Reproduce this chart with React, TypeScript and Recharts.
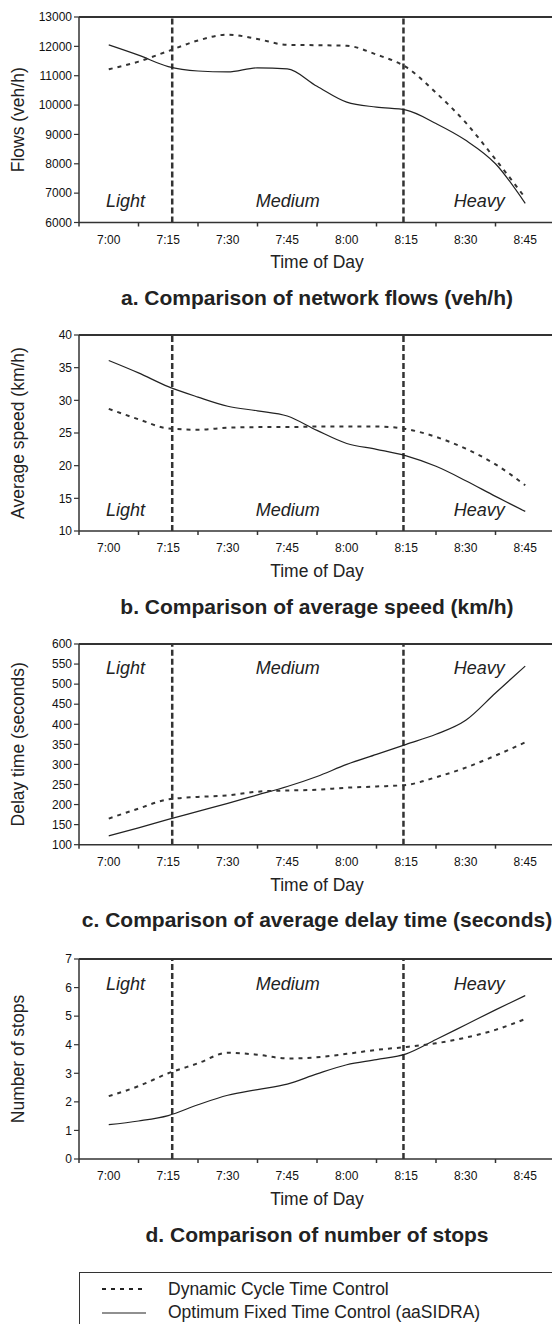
import React from 'react';
import { LineChart, Line, XAxis, YAxis, ReferenceLine, ReferenceArea } from 'recharts';

// minutes after 7:00, read every half interval
const times = [0, 7.5, 15, 22.5, 30, 37.5, 45, 52.5, 60, 67.5, 75, 82.5, 90, 97.5, 105];
const tickTimes = [0, 15, 30, 45, 60, 75, 90, 105];
const tickLabels = ['7:00', '7:15', '7:30', '7:45', '8:00', '8:15', '8:30', '8:45'];
const periodBounds = [-7.5, 16, 74.3, 112.5];
const periodNames = ['Light', 'Medium', 'Heavy'];

const flowsDynamic = [11220, 11480, 11840, 12200, 12400, 12250, 12050, 12040, 12020, 11720, 11290, 10420, 9400, 8150, 6840];
const flowsFixed = [12050, 11700, 11310, 11160, 11130, 11270, 11230, 10640, 10100, 9930, 9830, 9370, 8800, 8000, 6650];
const flowsTicks = [6000, 7000, 8000, 9000, 10000, 11000, 12000, 13000];

const speedDynamic = [28.7, 27.1, 25.7, 25.5, 25.8, 25.9, 25.9, 26.0, 26.0, 26.0, 25.6, 24.4, 22.6, 20.2, 17.0];
const speedFixed = [36.1, 34.2, 32.1, 30.5, 29.1, 28.4, 27.6, 25.4, 23.4, 22.5, 21.5, 19.9, 17.7, 15.3, 13.0];
const speedTicks = [10, 15, 20, 25, 30, 35, 40];

const delayDynamic = [165, 190, 213, 219, 223, 232, 235, 237, 242, 245, 249, 268, 292, 322, 355];
const delayFixed = [122, 142, 163, 183, 203, 224, 245, 270, 300, 325, 350, 375, 410, 478, 545];
const delayTicks = [100, 150, 200, 250, 300, 350, 400, 450, 500, 550, 600];

const stopsDynamic = [2.2, 2.55, 3.0, 3.35, 3.72, 3.65, 3.52, 3.56, 3.68, 3.82, 3.92, 4.05, 4.25, 4.52, 4.9];
const stopsFixed = [1.2, 1.33, 1.52, 1.9, 2.23, 2.43, 2.62, 2.98, 3.3, 3.48, 3.68, 4.18, 4.7, 5.22, 5.72];
const stopsTicks = [0, 1, 2, 3, 4, 5, 6, 7];

const seriesNames = ['Dynamic Cycle Time Control', 'Optimum Fixed Time Control (aaSIDRA)'];

const FONT = '"Liberation Sans", Arial, Helvetica, sans-serif';
const CHART_W = 560;
const PLOT_L = 79;
const PLOT_R = 555;
const HALF = (PLOT_R - PLOT_L) / 16;
const AXIS = '#333';

const panels = [
	{ title: 'a. Comparison of network flows (veh/h)', yLabel: 'Flows (veh/h)', dynamic: flowsDynamic, fixed: flowsFixed, ticks: flowsTicks, top: 16.5, plotH: 205.5, place: 'bottom' },
	{ title: 'b. Comparison of average speed (km/h)', yLabel: 'Average speed (km/h)', dynamic: speedDynamic, fixed: speedFixed, ticks: speedTicks, top: 335, plotH: 196, place: 'bottom' },
	{ title: 'c. Comparison of average delay time (seconds)', yLabel: 'Delay time (seconds)', dynamic: delayDynamic, fixed: delayFixed, ticks: delayTicks, top: 644, plotH: 200.7, place: 'top' },
	{ title: 'd. Comparison of number of stops', yLabel: 'Number of stops', dynamic: stopsDynamic, fixed: stopsFixed, ticks: stopsTicks, top: 959, plotH: 200, place: 'top' },
];

// tick labels sit on the categories, tick marks between them
const TimeTick = ({ x, y, payload, index }: any) => {
	const axisY = y - 4;
	return (
		<g>
			<line x1={x - HALF} x2={x - HALF} y1={axisY} y2={axisY + 4} stroke={AXIS} strokeWidth={1.5} />
			<text x={x} y={axisY + 21} textAnchor="middle" fontSize={12} fill="#111" fontFamily={FONT}>
				{tickLabels[index] ?? payload.value}
			</text>
		</g>
	);
};

const periodLabel = (text: string, place: string) => (props: any) => {
	const { x, y, width, height } = props.viewBox;
	const baseY = place === 'bottom' ? y + height - 15.5 : y + 30.5;
	return (
		<text x={x + width / 2} y={baseY} textAnchor="middle" fontSize={18} fontStyle="italic" fill="#222" fontFamily={FONT}>
			{text}
		</text>
	);
};

const yTitle = (text: string) => (props: any) => {
	const { y, height } = props.viewBox;
	const cy = y + height / 2;
	return (
		<text x={17.5} y={cy} transform={`rotate(-90 17.5 ${cy})`} textAnchor="middle" dominantBaseline="central" fontSize={17.5} fill="#222" fontFamily={FONT}>
			{text}
		</text>
	);
};

function Panel({ p }: { p: any }) {
	const data = times.map((t, i) => ({ t, dynamic: p.dynamic[i], fixed: p.fixed[i] }));
	const domain = [p.ticks[0], p.ticks[p.ticks.length - 1]];
	const bottom = p.top + p.plotH;
	return (
		<>
			<div style={{ position: 'absolute', left: 0, top: p.top - 10 }}>
				<LineChart width={CHART_W} height={10 + p.plotH + 60} data={data} margin={{ top: 10, right: CHART_W - PLOT_R, left: 0, bottom: 0 }}>
					<XAxis
						dataKey="t"
						type="number"
						domain={[periodBounds[0], periodBounds[periodBounds.length - 1]]}
						ticks={tickTimes}
						interval={0}
						height={60}
						tickSize={4}
						tickMargin={0}
						tickLine={false}
						axisLine={{ stroke: AXIS, strokeWidth: 1.5 }}
						tick={<TimeTick />}
					/>
					<YAxis
						type="number"
						domain={domain}
						ticks={p.ticks}
						interval={0}
						width={PLOT_L}
						tickSize={5}
						tickMargin={2}
						tick={{ fontSize: 12, fill: '#111', fontFamily: FONT }}
						tickLine={{ stroke: AXIS, strokeWidth: 1.2 }}
						axisLine={{ stroke: AXIS, strokeWidth: 1.5 }}
						label={yTitle(p.yLabel)}
					/>
					<ReferenceLine y={domain[1]} stroke={AXIS} strokeWidth={1.8} />
					{periodNames.map((name, i) => (
						<ReferenceArea
							key={name}
							x1={periodBounds[i]}
							x2={periodBounds[i + 1]}
							fill="none"
							stroke="none"
							label={periodLabel(name, p.place)}
						/>
					))}
					<ReferenceLine x={periodBounds[1]} stroke={AXIS} strokeWidth={2.5} strokeDasharray="6 3" />
					<ReferenceLine x={periodBounds[2]} stroke={AXIS} strokeWidth={2.5} strokeDasharray="6 3" />
					<Line dataKey="fixed" name={seriesNames[1]} type="monotone" stroke="#222" strokeWidth={1.2} dot={false} isAnimationActive={false} />
					<Line dataKey="dynamic" name={seriesNames[0]} type="monotone" stroke="#333" strokeWidth={2} strokeDasharray="4 5" dot={false} isAnimationActive={false} />
				</LineChart>
			</div>
			<div style={{ position: 'absolute', left: 0, width: 634, top: bottom + 40 - 10, lineHeight: '20px', textAlign: 'center', fontSize: 17.5, color: '#222' }}>
				Time of Day
			</div>
			<div style={{ position: 'absolute', left: 0, width: 634, top: bottom + 75.5 - 12, lineHeight: '24px', textAlign: 'center', fontSize: 21, fontWeight: 'bold', color: '#222', whiteSpace: 'nowrap' }}>
				{p.title}
			</div>
		</>
	);
}

function LegendBox() {
	return (
		<div style={{ position: 'absolute', left: 79, top: 1272, width: 500, height: 80, border: `1.5px solid ${AXIS}`, boxSizing: 'border-box' }}>
			{seriesNames.map((name, i) => (
				<div key={name} style={{ position: 'absolute', left: 0, top: 5 + i * 23.5, height: 22, display: 'flex', alignItems: 'center' }}>
					<svg width={88} height={22}>
						<line x1={22} x2={66} y1={11} y2={11} stroke="#222" strokeWidth={i === 0 ? 2 : 1.2} strokeDasharray={i === 0 ? '4 5' : undefined} />
					</svg>
					<span style={{ fontSize: 17.5, color: '#222', whiteSpace: 'nowrap' }}>{name}</span>
				</div>
			))}
		</div>
	);
}

export default function App() {
	return (
		<div style={{ position: 'absolute', left: 0, top: 0, width: 552, height: 1324, overflow: 'hidden', background: '#fff', fontFamily: FONT }}>
			{panels.map((p) => (
				<Panel key={p.title} p={p} />
			))}
			<LegendBox />
		</div>
	);
}
